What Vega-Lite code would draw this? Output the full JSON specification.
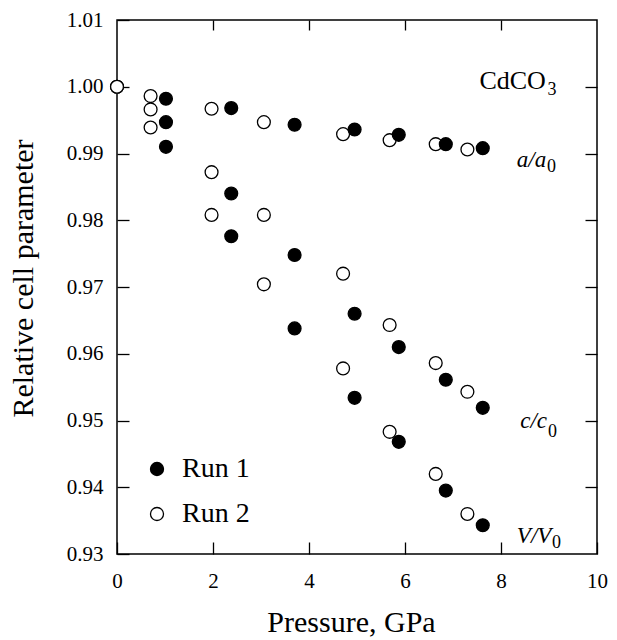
{
  "$schema": "https://vega.github.io/schema/vega-lite/v6.json",
  "width": 480,
  "height": 534,
  "autosize": {"type": "none"},
  "padding": {"left": 117, "top": 20, "right": 20, "bottom": 86},
  "background": "white",
  "config": {
    "font": "Liberation Serif",
    "view": {"stroke": "black", "strokeWidth": 1.5},
    "axis": {
      "domain": false,
      "grid": false,
      "tickColor": "black",
      "tickWidth": 1.3,
      "tickSize": -12,
      "labelColor": "black",
      "labelFont": "Liberation Serif",
      "labelFontSize": 21,
      "labelFlush": false,
      "labelOverlap": false,
      "titleColor": "black",
      "titleFont": "Liberation Serif",
      "titleFontSize": 30,
      "titleFontWeight": "normal"
    }
  },
  "datasets": {
    "points": [
      {"pressure": 0, "value": 1.0, "param": "a", "run": "Run 2"},
      {"pressure": 0, "value": 1.0, "param": "c", "run": "Run 2"},
      {"pressure": 0, "value": 1.0, "param": "V", "run": "Run 2"},
      {"pressure": 0.70, "value": 0.9986, "param": "a", "run": "Run 2"},
      {"pressure": 0.70, "value": 0.9966, "param": "c", "run": "Run 2"},
      {"pressure": 0.70, "value": 0.9939, "param": "V", "run": "Run 2"},
      {"pressure": 1.97, "value": 0.9967, "param": "a", "run": "Run 2"},
      {"pressure": 1.97, "value": 0.9872, "param": "c", "run": "Run 2"},
      {"pressure": 1.97, "value": 0.9808, "param": "V", "run": "Run 2"},
      {"pressure": 3.06, "value": 0.9947, "param": "a", "run": "Run 2"},
      {"pressure": 3.06, "value": 0.9808, "param": "c", "run": "Run 2"},
      {"pressure": 3.06, "value": 0.9704, "param": "V", "run": "Run 2"},
      {"pressure": 4.71, "value": 0.9929, "param": "a", "run": "Run 2"},
      {"pressure": 4.71, "value": 0.9720, "param": "c", "run": "Run 2"},
      {"pressure": 4.71, "value": 0.9578, "param": "V", "run": "Run 2"},
      {"pressure": 5.68, "value": 0.9920, "param": "a", "run": "Run 2"},
      {"pressure": 5.68, "value": 0.9643, "param": "c", "run": "Run 2"},
      {"pressure": 5.68, "value": 0.9483, "param": "V", "run": "Run 2"},
      {"pressure": 6.64, "value": 0.9914, "param": "a", "run": "Run 2"},
      {"pressure": 6.64, "value": 0.9586, "param": "c", "run": "Run 2"},
      {"pressure": 6.64, "value": 0.9420, "param": "V", "run": "Run 2"},
      {"pressure": 7.30, "value": 0.9906, "param": "a", "run": "Run 2"},
      {"pressure": 7.30, "value": 0.9543, "param": "c", "run": "Run 2"},
      {"pressure": 7.30, "value": 0.9360, "param": "V", "run": "Run 2"},
      {"pressure": 1.02, "value": 0.9982, "param": "a", "run": "Run 1"},
      {"pressure": 1.02, "value": 0.9947, "param": "c", "run": "Run 1"},
      {"pressure": 1.02, "value": 0.9910, "param": "V", "run": "Run 1"},
      {"pressure": 2.38, "value": 0.9968, "param": "a", "run": "Run 1"},
      {"pressure": 2.38, "value": 0.9840, "param": "c", "run": "Run 1"},
      {"pressure": 2.38, "value": 0.9776, "param": "V", "run": "Run 1"},
      {"pressure": 3.70, "value": 0.9943, "param": "a", "run": "Run 1"},
      {"pressure": 3.70, "value": 0.9748, "param": "c", "run": "Run 1"},
      {"pressure": 3.70, "value": 0.9638, "param": "V", "run": "Run 1"},
      {"pressure": 4.95, "value": 0.9936, "param": "a", "run": "Run 1"},
      {"pressure": 4.95, "value": 0.9660, "param": "c", "run": "Run 1"},
      {"pressure": 4.95, "value": 0.9534, "param": "V", "run": "Run 1"},
      {"pressure": 5.87, "value": 0.9928, "param": "a", "run": "Run 1"},
      {"pressure": 5.87, "value": 0.9610, "param": "c", "run": "Run 1"},
      {"pressure": 5.87, "value": 0.9468, "param": "V", "run": "Run 1"},
      {"pressure": 6.85, "value": 0.9914, "param": "a", "run": "Run 1"},
      {"pressure": 6.85, "value": 0.9561, "param": "c", "run": "Run 1"},
      {"pressure": 6.85, "value": 0.9395, "param": "V", "run": "Run 1"},
      {"pressure": 7.62, "value": 0.9908, "param": "a", "run": "Run 1"},
      {"pressure": 7.62, "value": 0.9519, "param": "c", "run": "Run 1"},
      {"pressure": 7.62, "value": 0.9343, "param": "V", "run": "Run 1"}
    ],
    "chem": [
      {"pressure": 7.55, "value": 0.99966, "label": "CdCO"}
    ],
    "ratios": [
      {"pressure": 8.33, "value": 0.98802, "label": "a/a"},
      {"pressure": 8.40, "value": 0.94888, "label": "c/c"},
      {"pressure": 8.33, "value": 0.93160, "label": "V/V"}
    ],
    "subs": [
      {"pressure": 8.97, "value": 0.99876, "label": "3"},
      {"pressure": 8.96, "value": 0.98727, "label": "0"},
      {"pressure": 8.98, "value": 0.94757, "label": "0"},
      {"pressure": 9.06, "value": 0.93085, "label": "0"}
    ]
  },
  "layer": [
    {
      "data": {"name": "points"},
      "mark": {"type": "point", "shape": "circle", "filled": true, "size": 165, "stroke": "black", "strokeWidth": 1.3, "opacity": 1},
      "encoding": {
        "x": {
          "field": "pressure", "type": "quantitative",
          "scale": {"domain": [0, 10], "nice": false, "zero": false},
          "axis": {"orient": "bottom", "values": [0, 2, 4, 6, 8, 10], "format": "d", "labelPadding": 28, "title": "Pressure, GPa", "titleX": 234, "titleY": 77, "titleBaseline": "alphabetic"}
        },
        "y": {
          "field": "value", "type": "quantitative",
          "scale": {"domain": [0.93, 1.01], "nice": false, "zero": false},
          "axis": {"orient": "left", "values": [0.93, 0.94, 0.95, 0.96, 0.97, 0.98, 0.99, 1.0, 1.01], "format": ".2f", "labelPadding": 26, "title": "Relative cell parameter", "titleX": -85, "titleY": 258, "titleBaseline": "alphabetic", "titleAngle": -90}
        },
        "fill": {
          "field": "run", "type": "nominal",
          "scale": {"domain": ["Run 1", "Run 2"], "range": ["black", "white"]},
          "legend": {
            "orient": "none", "legendX": 26, "legendY": 435, "title": null,
            "labelFont": "Liberation Serif", "labelFontSize": 28, "labelColor": "black",
            "symbolType": "circle", "symbolSize": 170, "symbolStrokeColor": "black", "symbolStrokeWidth": 1.3,
            "symbolOpacity": 1, "rowPadding": 17, "labelOffset": 11, "padding": 0, "labelLimit": 0
          }
        }
      }
    },
    {
      "data": {"name": "points"},
      "mark": {"type": "point", "opacity": 0},
      "encoding": {
        "x": {"field": "pressure", "type": "quantitative", "axis": {"orient": "top", "values": [2, 4, 6, 8], "labels": false, "title": null, "tickSize": -10}},
        "y": {"field": "value", "type": "quantitative", "axis": {"orient": "right", "values": [0.94, 0.95, 0.96, 0.97, 0.98, 0.99, 1.0], "labels": false, "title": null}}
      }
    },
    {
      "data": {"name": "chem"},
      "mark": {"type": "text", "align": "left", "baseline": "alphabetic", "font": "Liberation Serif", "fontSize": 26, "color": "black"},
      "encoding": {
        "x": {"field": "pressure", "type": "quantitative", "axis": null},
        "y": {"field": "value", "type": "quantitative", "axis": null},
        "text": {"field": "label"}
      }
    },
    {
      "data": {"name": "ratios"},
      "mark": {"type": "text", "align": "left", "baseline": "alphabetic", "font": "Liberation Serif", "fontSize": 23, "fontStyle": "italic", "color": "black"},
      "encoding": {
        "x": {"field": "pressure", "type": "quantitative", "axis": null},
        "y": {"field": "value", "type": "quantitative", "axis": null},
        "text": {"field": "label"}
      }
    },
    {
      "data": {"name": "subs"},
      "mark": {"type": "text", "align": "left", "baseline": "alphabetic", "font": "Liberation Serif", "fontSize": 18, "color": "black"},
      "encoding": {
        "x": {"field": "pressure", "type": "quantitative", "axis": null},
        "y": {"field": "value", "type": "quantitative", "axis": null},
        "text": {"field": "label"}
      }
    }
  ],
  "resolve": {"axis": {"x": "independent", "y": "independent"}}
}
